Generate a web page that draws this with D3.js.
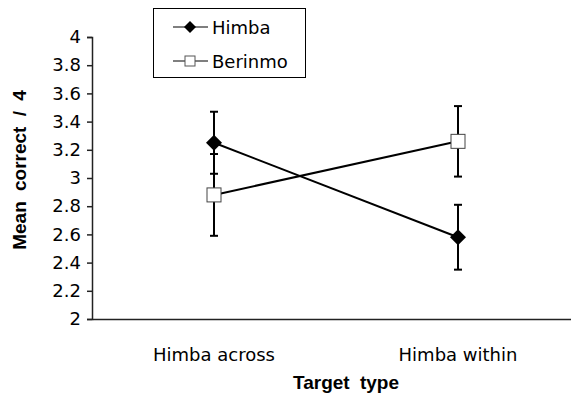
<!DOCTYPE html>
<html>
<head>
<meta charset="utf-8">
<script src="https://cdn.jsdelivr.net/npm/d3@7"></script>
<style>
  body { margin: 0; background: #fff; }
  svg { display: block; }
  .tick text { font-family: "DejaVu Sans", sans-serif; font-size: 18px; fill: #000; }
  .ttl { font-family: "Liberation Sans", Arial, sans-serif; font-weight: bold; font-size: 19px; word-spacing: 5px; }
</style>
</head>
<body>
<svg id="chart" width="571" height="394"></svg>
<script>
const categories = ["Himba across", "Himba within"]
const himbaMean = [3.25, 2.58]
const himbaErr = [0.22, 0.23]
const berinmoMean = [2.88, 3.26]
const berinmoErr = [0.29, 0.25]
const yTicks = [2, 2.2, 2.4, 2.6, 2.8, 3, 3.2, 3.4, 3.6, 3.8, 4]

const svg = d3.select("#chart")

const x = d3.scaleBand()
    .domain(categories)
    .range([92, 580])
const y = d3.scaleLinear()
    .domain([2, 4])
    .range([319, 37])

// y axis
svg.append("g")
 .attr("transform", "translate(92,0)")
 .call(d3.axisLeft(y)
    .tickValues(yTicks)
    .tickSize(5)
    .tickPadding(6)
    .tickFormat(d => String(+d.toFixed(1))))
 .call(g => g.select(".domain").attr("stroke", "#222").attr("stroke-width", 1.5))
 .call(g => g.selectAll(".tick line").attr("stroke", "#222").attr("stroke-width", 1.5))

// x axis: line + category labels, no ticks
svg.append("g")
 .attr("transform", "translate(0,319)")
 .call(d3.axisBottom(x).tickSize(0).tickPadding(29))
 .call(g => g.select(".domain").attr("stroke", "#222").attr("stroke-width", 1.5))

// axis titles
svg.append("text")
 .attr("class", "ttl")
 .attr("x", 346).attr("y", 389)
 .attr("text-anchor", "middle")
 .text("Target type")
svg.append("text")
 .attr("class", "ttl")
 .attr("transform", "translate(26,170) rotate(-90)")
 .attr("text-anchor", "middle")
 .text("Mean correct / 4")

const cx = d => x(d) + x.bandwidth() / 2
const line = d3.line()
    .x((d, i) => cx(categories[i]))
    .y(d => y(d))

function drawSeries(means, errs) {
    svg.append("path")
     .datum(means)
     .attr("fill", "none")
     .attr("stroke", "#000")
     .attr("stroke-width", 2)
     .attr("d", line)
    const eb = svg.append("g").attr("stroke", "#000").attr("stroke-width", 2)
    means.forEach((m, i) => {
        const px = cx(categories[i])
        eb.append("line").attr("x1", px).attr("x2", px)
          .attr("y1", y(m - errs[i])).attr("y2", y(m + errs[i]))
        ;[m - errs[i], m + errs[i]].forEach(v => {
            eb.append("line").attr("x1", px - 4).attr("x2", px + 4)
              .attr("y1", y(v)).attr("y2", y(v))
        })
    })
}

drawSeries(berinmoMean, berinmoErr)
drawSeries(himbaMean, himbaErr)

// markers
svg.append("g").selectAll("rect")
 .data(berinmoMean)
 .join("rect")
 .attr("x", (d, i) => cx(categories[i]) - 7)
 .attr("y", d => y(d) - 7)
 .attr("width", 14).attr("height", 14)
 .attr("fill", "#fff")
 .attr("stroke", "#444")
 .attr("stroke-width", 1)

svg.append("g").selectAll("path")
 .data(himbaMean)
 .join("path")
 .attr("transform", (d, i) => "translate(" + cx(categories[i]) + "," + y(d) + ")")
 .attr("d", "M0,-8L8,0L0,8L-8,0Z")
 .attr("fill", "#000")

// legend
const lg = svg.append("g")
lg.append("rect")
 .attr("x", 153.5).attr("y", 8.5)
 .attr("width", 152).attr("height", 69)
 .attr("fill", "#fff").attr("stroke", "#000")
const items = [["Himba", "diamond"], ["Berinmo", "square"]]
items.forEach(([name, shape], i) => {
    const yy = 27 + i * 34
    lg.append("line").attr("x1", 173).attr("x2", 208)
      .attr("y1", yy).attr("y2", yy).attr("stroke", "#000").attr("stroke-width", 1.2)
    if (shape === "diamond") {
        lg.append("path").attr("transform", "translate(190," + yy + ")")
          .attr("d", "M0,-6L6,0L0,6L-6,0Z").attr("fill", "#000")
    } else {
        lg.append("rect").attr("x", 185).attr("y", yy - 5)
          .attr("width", 10).attr("height", 10)
          .attr("fill", "#fff").attr("stroke", "#555")
    }
    lg.append("text")
      .attr("x", 212).attr("y", yy + 7)
      .style("font-family", "DejaVu Sans, sans-serif")
      .style("font-size", "18px")
      .text(name)
})
</script>
</body>
</html>
